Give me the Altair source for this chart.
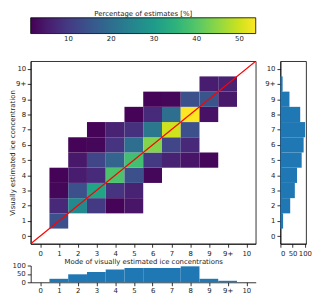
import json
import altair as alt
import pandas as pd

labels = ["0", "1", "2", "3", "4", "5", "6", "7", "8", "9", "9+", "10"]

# heatmap cells: column (mode index), row (estimate index), percentage
cell_x = [1,
          1, 2, 3, 4, 5,
          1, 2, 3, 4, 5,
          1, 2, 3, 4, 5, 6,
          2, 3, 4, 5, 6, 7, 8, 9,
          2, 3, 4, 5, 6, 7, 8,
          3, 4, 5, 6, 7, 8,
          5, 6, 7, 8, 9,
          6, 7, 8, 9, 10,
          9, 10]
cell_y = [1,
          2, 2, 2, 2, 2,
          3, 3, 3, 3, 3,
          4, 4, 4, 4, 4, 4,
          5, 5, 5, 5, 5, 5, 5, 5,
          6, 6, 6, 6, 6, 6, 6,
          7, 7, 7, 7, 7, 7,
          8, 8, 8, 8, 8,
          9, 9, 9, 9, 9,
          10, 10]
cell_pct = [14,
            7, 26, 10, 1.5, 4,
            2, 14, 32, 9, 6,
            1.5, 5, 7.5, 39, 14, 2,
            4.5, 12, 18, 38, 10, 6, 4, 2,
            1.5, 2, 9, 20, 44, 12, 7,
            1.5, 6, 8.5, 22, 50, 14,
            1.5, 7.5, 20, 53.8, 3.5,
            1.5, 2, 14, 15, 4.5,
            5, 6]

mode_counts = [0, 21, 48, 62, 77, 86, 86, 86, 96, 21, 9, 0]
est_counts = [0, 11, 40, 59, 68, 87, 95, 101, 81, 37, 9, 0]

idx = list(range(len(labels)))
label_expr = json.dumps(labels) + "[datum.value]"
FONT = "DejaVu Sans"
FS = 7

heat_df = pd.DataFrame({"cx": cell_x, "cy": cell_y, "pct": cell_pct})
heat_df["x_lo"] = heat_df["cx"] - 0.5
heat_df["x_hi"] = heat_df["cx"] + 0.5
heat_df["y_lo"] = heat_df["cy"] - 0.5
heat_df["y_hi"] = heat_df["cy"] + 0.5

mode_df = pd.DataFrame({"i": idx, "n": mode_counts})
mode_df["lo"] = mode_df["i"] - 0.5
mode_df["hi"] = mode_df["i"] + 0.5
est_df = pd.DataFrame({"i": idx, "n": est_counts})
est_df["lo"] = est_df["i"] - 0.5
est_df["hi"] = est_df["i"] + 0.5

diag_df = pd.DataFrame({"a": [-0.5, len(labels) - 0.5]})

cat_scale = alt.Scale(domain=[-0.5, len(labels) - 0.5], nice=False, zero=False)


def cat_axis(title=None, tpad=3, lpad=2):
    kw = dict(values=idx, labelExpr=label_expr, grid=False, labelOverlap=False,
              titlePadding=tpad, labelPadding=lpad, minExtent=0)
    kw["title"] = title
    return alt.Axis(**kw)


W, H = 228, 185
XT = "Mode of visually estimated ice concentrations"
YT = "Visually estimated ice concentration"

heat = alt.Chart(heat_df).mark_rect().encode(
    x=alt.X("x_lo:Q", scale=cat_scale, axis=cat_axis(XT, 1)),
    x2="x_hi:Q",
    y=alt.Y("y_lo:Q", scale=cat_scale, axis=cat_axis(YT, 0, 1.5)),
    y2="y_hi:Q",
    color=alt.Color("pct:Q",
                    scale=alt.Scale(scheme="viridis", domain=[1.16, 53.8]),
                    legend=alt.Legend(orient="none", legendX=0, legendY=-52,
                                      direction="horizontal", gradientLength=W,
                                      gradientThickness=16,
                                      title="Percentage of estimates [%]",
                                      titleAnchor="middle", titleFontSize=FS,
                                      titleFontWeight="normal", titleFont=FONT,
                                      titleColor="#222", titlePadding=1,
                                      labelFont=FONT, labelFontSize=FS,
                                      labelColor="#222",
                                      values=[10, 20, 30, 40, 50],
                                      gradientStrokeColor="black",
                                      gradientStrokeWidth=0.8)),
)

diag = alt.Chart(diag_df).mark_line(color="red", strokeWidth=1.2, clip=True).encode(
    x=alt.X("a:Q", scale=cat_scale, axis=cat_axis(XT, 1)),
    y=alt.Y("a:Q", scale=cat_scale, axis=cat_axis(YT, 0, 1.5)),
)

main = alt.layer(heat, diag).properties(width=W, height=H)

right = alt.Chart(est_df).mark_bar(color="#1f77b4").encode(
    y=alt.Y("lo:Q", scale=cat_scale, axis=cat_axis(None)),
    y2="hi:Q",
    x=alt.X("n:Q", scale=alt.Scale(domain=[0, 105], nice=False),
            axis=alt.Axis(values=[0, 50, 100], grid=False, title=None,
                          labelOverlap=False)),
    x2=alt.datum(0),
).properties(width=26, height=H)

bottom = alt.Chart(mode_df).mark_bar(color="#1f77b4").encode(
    x=alt.X("lo:Q", scale=cat_scale, axis=cat_axis(None, 3, 1)),
    x2="hi:Q",
    y=alt.Y("n:Q", scale=alt.Scale(domain=[0, 101], nice=False),
            axis=alt.Axis(values=[0, 50, 100], grid=False, title=None,
                          labelOverlap=False, minExtent=0)),
    y2=alt.datum(0),
).properties(width=W, height=17, view=alt.ViewBackground(stroke="transparent"))

chart = alt.concat(main, right, bottom, columns=2).properties(
    spacing={"row": 22, "column": 25},
    bounds="flush",
    padding={"left": 0, "top": 0, "right": 0, "bottom": 0},
).configure_view(stroke="black", strokeWidth=0.8).configure_axis(
    labelFont=FONT, labelFontSize=FS, labelColor="#222",
    titleFont=FONT, titleFontSize=FS, titleFontWeight="normal", titleColor="#222",
    domainColor="black", domainWidth=0.8, tickColor="black", tickWidth=0.8,
    tickSize=3.5,
)

chart.save("out.html", embed_options={"renderer": "svg", "actions": False})
